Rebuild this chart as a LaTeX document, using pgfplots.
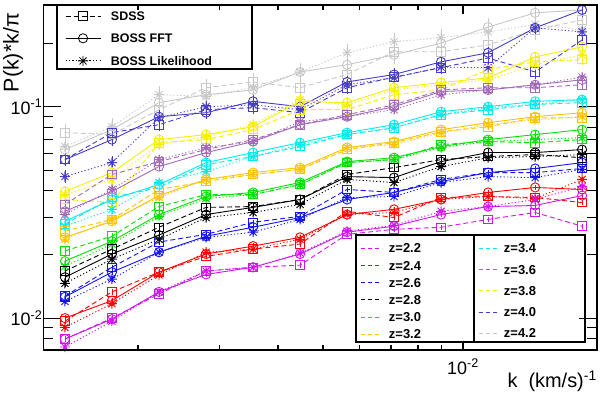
\documentclass[border=0pt]{standalone}
\usepackage{fontspec}
\setmainfont{Liberation Sans}
\usepackage{pgfplots}
\usepackage{pgfplotstable}
\pgfplotsset{compat=1.18}

\pgfdeclareplotmark{rootstar}{%
  \pgfpathmoveto{\pgfqpoint{-\pgfplotmarksize}{0pt}}\pgfpathlineto{\pgfqpoint{\pgfplotmarksize}{0pt}}%
  \pgfpathmoveto{\pgfqpoint{0pt}{-\pgfplotmarksize}}\pgfpathlineto{\pgfqpoint{0pt}{\pgfplotmarksize}}%
  \pgfpathmoveto{\pgfqpoint{-.7071\pgfplotmarksize}{-.7071\pgfplotmarksize}}\pgfpathlineto{\pgfqpoint{.7071\pgfplotmarksize}{.7071\pgfplotmarksize}}%
  \pgfpathmoveto{\pgfqpoint{-.7071\pgfplotmarksize}{.7071\pgfplotmarksize}}\pgfpathlineto{\pgfqpoint{.7071\pgfplotmarksize}{-.7071\pgfplotmarksize}}%
  \pgfusepathqstroke}

\definecolor{cA}{RGB}{210,20,240}
\definecolor{cB}{RGB}{255,0,0}
\definecolor{cC}{RGB}{20,20,240}
\definecolor{cD}{RGB}{0,0,0}
\definecolor{cE}{RGB}{0,225,0}
\definecolor{cF}{RGB}{255,195,0}
\definecolor{cG}{RGB}{0,235,235}
\definecolor{cH}{RGB}{165,105,185}
\definecolor{cI}{RGB}{245,240,0}
\definecolor{cJ}{RGB}{70,60,200}
\definecolor{cK}{RGB}{200,200,200}

\pgfplotstableread{
k sdss fft lik
1.393e-3 0.00796 0.00796 0.00730
1.758e-3 0.0100 0.00989 0.00967
2.219e-3 0.0130 0.0133 0.0133
2.802e-3 0.0167 0.0161 0.0167
3.536e-3 0.0174 0.0174 0.0174
4.462e-3 0.0178 0.0201 0.0203
5.631e-3 0.0249 0.0255 0.0258
7.107e-3 0.0263 0.0272 0.0275
8.969e-3 0.0269 0.0309 0.0320
1.132e-2 0.0293 0.0337 0.0337
1.429e-2 0.0316 0.0341 0.0364
1.803e-2 0.0272 0.0380 0.0420
}\zA
\pgfplotstableread{
k sdss fft lik
1.393e-3 0.00967 0.0100 0.00904
1.758e-3 0.0133 0.0121 0.0117
2.219e-3 0.0165 0.0165 0.0160
2.802e-3 0.0196 0.0201 0.0205
3.536e-3 0.0212 0.0219 0.0212
4.462e-3 0.0224 0.0241 0.0236
5.631e-3 0.0320 0.0309 0.0309
7.107e-3 0.0299 0.0327 0.0316
8.969e-3 0.0372 0.0364 0.0364
1.132e-2 0.0376 0.0393 0.0376
1.429e-2 0.0372 0.0415 0.0368
1.803e-2 0.0352 0.0406 0.0453
}\zB
\pgfplotstableread{
k sdss fft lik
1.393e-3 0.0127 0.0126 0.0120
1.758e-3 0.0174 0.0165 0.0153
2.219e-3 0.0229 0.0205 0.0205
2.802e-3 0.0249 0.0244 0.0241
3.536e-3 0.0284 0.0269 0.0255
4.462e-3 0.0303 0.0299 0.0293
5.631e-3 0.0406 0.0364 0.0372
7.107e-3 0.0393 0.0393 0.0376
8.969e-3 0.0453 0.0443 0.0438
1.132e-2 0.0488 0.0488 0.0467
1.429e-2 0.0488 0.0510 0.0462
1.803e-2 0.0510 0.0544 0.0505
}\zC
\pgfplotstableread{
k sdss fft lik
1.393e-3 0.0167 0.0156 0.0146
1.758e-3 0.0212 0.0201 0.0190
2.219e-3 0.0269 0.0247 0.0236
2.802e-3 0.0334 0.0309 0.0299
3.536e-3 0.0337 0.0334 0.0316
4.462e-3 0.0364 0.0364 0.0345
5.631e-3 0.0478 0.0467 0.0453
7.107e-3 0.0515 0.0462 0.0438
8.969e-3 0.0562 0.0550 0.0521
1.132e-2 0.0581 0.0607 0.0574
1.429e-2 0.0594 0.0607 0.0581
1.803e-2 0.0574 0.0627 0.0594
}\zD
\pgfplotstableread{
k sdss fft lik
1.393e-3 0.0208 0.0186 0.0176
1.758e-3 0.0244 0.0231 0.0224
2.219e-3 0.0337 0.0309 0.0303
2.802e-3 0.0384 0.0376 0.0368
3.536e-3 0.0384 0.0393 0.0384
4.462e-3 0.0428 0.0438 0.0428
5.631e-3 0.0544 0.0550 0.0544
7.107e-3 0.0562 0.0574 0.0562
8.969e-3 0.0662 0.0648 0.0641
1.132e-2 0.0684 0.0699 0.0684
1.429e-2 0.0676 0.0738 0.0699
1.803e-2 0.0699 0.0779 0.0714
}\zE
\pgfplotstableread{
k sdss fft lik
1.393e-3 0.0258 0.0241 0.0236
1.758e-3 0.0293 0.0287 0.0293
2.219e-3 0.0406 0.0380 0.0372
2.802e-3 0.0443 0.0453 0.0453
3.536e-3 0.0478 0.0488 0.0478
4.462e-3 0.0505 0.0515 0.0505
5.631e-3 0.0627 0.0641 0.0641
7.107e-3 0.0676 0.0684 0.0662
8.969e-3 0.0762 0.0779 0.0754
1.132e-2 0.0804 0.0840 0.0822
1.429e-2 0.0887 0.0897 0.0868
1.803e-2 0.0887 0.0937 0.0897
}\zF
\pgfplotstableread{
k sdss fft lik
1.393e-3 0.0278 0.0287 0.0272
1.758e-3 0.0372 0.0364 0.0327
2.219e-3 0.0415 0.0428 0.0438
2.802e-3 0.0532 0.0544 0.0493
3.536e-3 0.0581 0.0607 0.0581
4.462e-3 0.0648 0.0676 0.0662
5.631e-3 0.0738 0.0754 0.0738
7.107e-3 0.0795 0.0822 0.0795
8.969e-3 0.0917 0.0947 0.0917
1.132e-2 0.0968 0.1000 0.0990
1.429e-2 0.1025 0.1060 0.1025
1.803e-2 0.1045 0.1080 0.1080
}\zG
\pgfplotstableread{
k sdss fft lik
1.393e-3 0.0345 0.0320 0.0309
1.758e-3 0.0478 0.0397 0.0406
2.219e-3 0.0550 0.0521 0.0562
2.802e-3 0.0627 0.0607 0.0641
3.536e-3 0.0699 0.0684 0.0684
4.462e-3 0.0822 0.0822 0.0850
5.631e-3 0.0917 0.0897 0.0897
7.107e-3 0.1020 0.1000 0.0968
8.969e-3 0.1200 0.1180 0.1140
1.132e-2 0.1230 0.1200 0.1200
1.429e-2 0.1230 0.1270 0.1270
1.803e-2 0.1270 0.1340 0.1380
}\zH
\pgfplotstableread{
k sdss fft lik
1.393e-3 0.0364 0.0397 0.0384
1.758e-3 0.0352 0.0488 0.0453
2.219e-3 0.0676 0.0699 0.0662
2.802e-3 0.0699 0.0738 0.0722
3.536e-3 0.0779 0.0804 0.0822
4.462e-3 0.0968 0.1060 0.1080
5.631e-3 0.0968 0.1045 0.1020
7.107e-3 0.1140 0.1230 0.1200
8.969e-3 0.1200 0.1300 0.1270
1.132e-2 0.1500 0.1370 0.1340
1.429e-2 0.1630 0.1720 0.1580
1.803e-2 0.1670 0.1920 0.1760
}\zI
\pgfplotstableread{
k sdss fft lik
1.393e-3 0.0562 0.0562 0.0467
1.758e-3 0.0754 0.0699 0.0544
2.219e-3 0.0822 0.0897 0.0887
2.802e-3 0.0968 0.0937 0.1000
3.536e-3 0.0990 0.1060 0.1020
4.462e-3 0.0937 0.1000 0.0968
5.631e-3 0.1230 0.1310 0.1270
7.107e-3 0.1380 0.1420 0.1370
8.969e-3 0.1530 0.1630 0.1540
1.132e-2 0.1700 0.1800 0.1530
1.429e-2 0.1460 0.2360 0.2360
1.803e-2 0.2070 0.2870 0.2260
}\zJ
\pgfplotstableread{
k sdss fft lik
1.393e-3 0.0754 0.0627 0.0648
1.758e-3 0.0738 0.0779 0.0804
2.219e-3 0.0968 0.1045 0.1140
2.802e-3 0.1230 0.1140 0.1120
3.536e-3 0.1310 0.1200 0.1230
4.462e-3 0.1230 0.1460 0.1460
5.631e-3 0.1420 0.1580 0.1800
7.107e-3 0.1820 0.1760 0.2030
8.969e-3 0.1820 0.2000 0.2120
1.132e-2 0.1960 0.2380 0.2260
1.429e-2 0.2310 0.2780 0.2450
1.803e-2 0.2570 0.2870 0.2310
}\zK

\pgfplotsset{
  every axis/.append style={
    scale only axis, width=553.5bp, height=345bp,
    xmin=1.2526e-3, xmax=0.019414, ymin=0.007065, ymax=0.3028,
    axis line style={line width=1.6bp},
    tick style={line width=1.1bp, black},
    tick align=inside,
    tick label style={font=\fontsize{18}{21}\selectfont},
    label style={font=\fontsize{20}{23}\selectfont},
  },
  sdssS/.style={line width=0.9bp, dash pattern=on 5bp off 3bp, mark=square, mark size=4.3bp, mark options={solid}},
  fftS/.style={line width=0.9bp, solid, mark=o, mark size=4.6bp},
  likS/.style={line width=0.9bp, dash pattern=on 1.2bp off 2.2bp, mark=rootstar, mark size=5bp, mark options={solid}},
  zleg/.style={line width=0.8bp, dash pattern=on 4bp off 3bp},
}

\newcommand\zplot[3]{%
\addplot[sdssS,#2,forget plot,error bars/.cd,y dir=both,y fixed relative=#3] table[x=k,y=sdss]{#1};
\addplot[fftS,#2,forget plot,error bars/.cd,y dir=both,y fixed relative=#3] table[x=k,y=fft]{#1};
\addplot[likS,#2,forget plot,error bars/.cd,y dir=both,y fixed relative=#3] table[x=k,y=lik]{#1};
}

\begin{document}
\begin{tikzpicture}
\begin{loglogaxis}[
  xtick=\empty,
  ytick={0.01,0.1}, yticklabels={10\textsuperscript{-2},10\textsuperscript{-1}},
  minor ytick={0.008,0.009,0.02,0.03,0.04,0.05,0.06,0.07,0.08,0.09,0.2,0.3},
  major tick length=18bp, minor tick length=10bp,
  yticklabel style={inner sep=1bp},
  ylabel={P(k)*k/π},
  ylabel style={at={(axis description cs:-0.0551,0.9768)}, anchor=east, inner sep=0pt, font=\fontsize{21.5}{24}\selectfont},
  error bars/error mark=none,
  error bars/error bar style={solid, line width=0.7bp},
  legend image code/.code={\draw[mark repeat=2,mark phase=2,#1] plot coordinates {(0bp,0bp) (17.5bp,0bp) (35bp,0bp)};},
  legend style={at={(axis description cs:0.0388,0.9812)}, anchor=north west, draw=none, fill=none, inner sep=0pt,
    row sep=13bp, column sep=10bp, font=\bfseries\fontsize{12.5}{14}\selectfont,
    nodes={inner sep=0pt, text height=9bp, text depth=0pt}},
  legend cell align=left,
]
\addlegendimage{sdssS, black, line width=0.8bp}
\addlegendentry{SDSS}
\addlegendimage{fftS, black, line width=0.8bp}
\addlegendentry{BOSS FFT}
\addlegendimage{likS, black, line width=0.8bp}
\addlegendentry{BOSS Likelihood}
\zplot{\zK}{cK}{0.10}
\zplot{\zJ}{cJ}{0.07}
\zplot{\zI}{cI}{0.06}
\zplot{\zH}{cH}{0.05}
\zplot{\zG}{cG}{0.05}
\zplot{\zF}{cF}{0.04}
\zplot{\zE}{cE}{0.04}
\zplot{\zD}{cD}{0.035}
\zplot{\zC}{cC}{0.03}
\zplot{\zB}{cB}{0.03}
\zplot{\zA}{cA}{0.03}
\end{loglogaxis}

\begin{loglogaxis}[
  ytick=\empty,
  xtick={0.01}, xticklabels={10\textsuperscript{-2}},
  minor xtick={0.002,0.003,0.004,0.005,0.006,0.007,0.008,0.009},
  major tick length=9bp, minor tick length=5bp,
  xticklabel style={inner sep=0pt, yshift=-9bp},
  xlabel={k\ \ (km/s)\textsuperscript{-1}},
  xlabel style={at={(axis description cs:1,-0.110)}, anchor=base east, inner sep=0pt},
  legend image code/.code={\draw[#1] (0bp,0bp) -- (20bp,0bp);},
  legend style={at={(axis description cs:0.5718,0.3094)}, anchor=north west, draw=none, fill=none, inner sep=0pt,
    row sep=7.7bp, column sep=8bp, font=\bfseries\fontsize{13}{15}\selectfont,
    nodes={inner sep=0pt, text height=9.5bp, text depth=0pt}},
  legend cell align=left,
]
\addlegendimage{zleg, cA}\addlegendentry{z=2.2}
\addlegendimage{zleg, cB}\addlegendentry{z=2.4}
\addlegendimage{zleg, cC}\addlegendentry{z=2.6}
\addlegendimage{zleg, cD}\addlegendentry{z=2.8}
\addlegendimage{zleg, cE}\addlegendentry{z=3.0}
\addlegendimage{zleg, cF}\addlegendentry{z=3.2}
\end{loglogaxis}

\begin{loglogaxis}[hide axis,
  legend image code/.code={\draw[#1] (0bp,0bp) -- (20bp,0bp);},
  legend style={at={(axis description cs:0.785,0.3094)}, anchor=north west, draw=none, fill=none, inner sep=0pt,
    row sep=11.75bp, column sep=5bp, font=\bfseries\fontsize{13}{15}\selectfont,
    nodes={inner sep=0pt, text height=9.5bp, text depth=0pt}},
  legend cell align=left,
]
\addlegendimage{zleg, cG}\addlegendentry{z=3.4}
\addlegendimage{zleg, cH}\addlegendentry{z=3.6}
\addlegendimage{zleg, cI}\addlegendentry{z=3.8}
\addlegendimage{zleg, cJ}\addlegendentry{z=4.0}
\addlegendimage{zleg, cK}\addlegendentry{z=4.2}
\draw[line width=1.3bp] (rel axis cs:0.0244,0.8145) rectangle (rel axis cs:0.3767,1.0);
\draw[line width=1.3bp] (rel axis cs:0.5646,0.0232) rectangle (rel axis cs:0.9783,0.3333);
\draw[line width=1.3bp] (rel axis cs:0.7778,0.0232) -- (rel axis cs:0.7778,0.3333);
\end{loglogaxis}
\pgfresetboundingbox
\path[use as bounding box] (-43.5bp,-44bp) rectangle (556.5bp,350bp);
\end{tikzpicture}
\end{document}
